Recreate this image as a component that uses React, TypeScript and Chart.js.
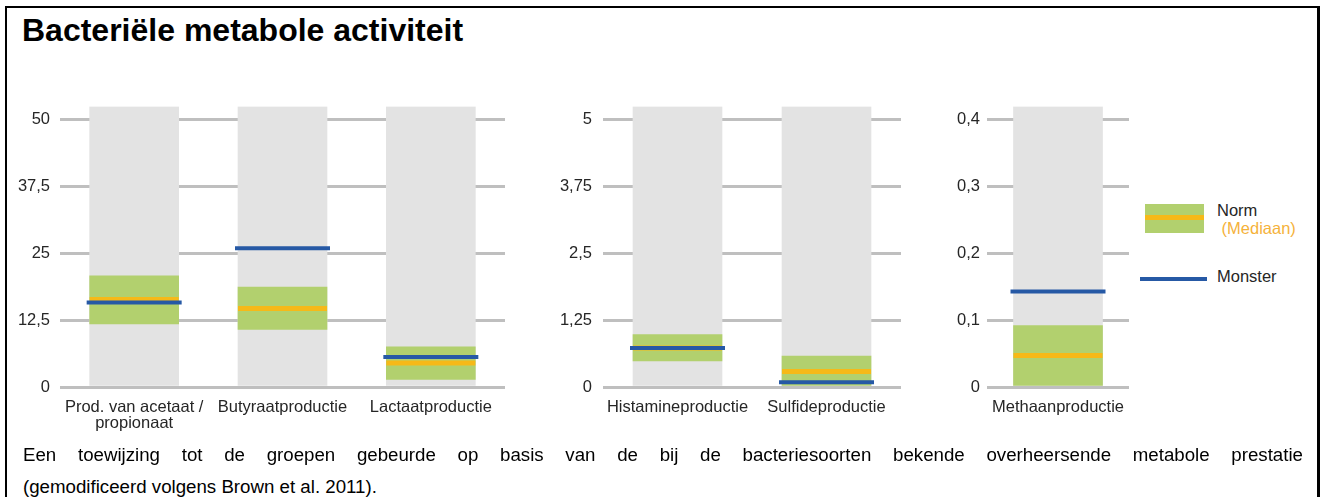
import React, { useEffect, useRef } from "react";
import { Chart, registerables } from "chart.js";

Chart.register(...registerables);

// ---------- data ----------
const groupLabels1: (string | string[])[] = [["Prod. van acetaat /", "propionaat"], "Butyraatproductie", "Lactaatproductie"];
const normLow1 = [11.8, 10.8, 1.4];
const normHigh1 = [20.8, 18.7, 7.5];
const median1 = [16.4, 14.7, 4.5];
const sample1 = [15.8, 26.0, 5.6];
const axisMax1 = 52.5;
const yTicks1 = [0, 12.5, 25, 37.5, 50];

const groupLabels2: (string | string[])[] = ["Histamineproductie", "Sulfideproductie"];
const normLow2 = [0.49, 0];
const normHigh2 = [0.98, 0.58];
const median2 = [0.73, 0.29];
const sample2 = [0.73, 0.09];
const axisMax2 = 5.25;
const yTicks2 = [0, 1.25, 2.5, 3.75, 5];

const groupLabels3: (string | string[])[] = ["Methaanproductie"];
const normLow3 = [0];
const normHigh3 = [0.092];
const median3 = [0.047];
const sample3 = [0.143];
const axisMax3 = 0.42;
const yTicks3 = [0, 0.1, 0.2, 0.3, 0.4];

const titleText = "Bacteriële metabole activiteit";
const legendNorm = "Norm";
const legendMedian = " (Mediaan)";
const legendSample = "Monster";
const footLine1 = "Een toewijzing tot de groepen gebeurde op basis van de bij de bacteriesoorten bekende overheersende metabole prestatie";
const footLine2 = "(gemodificeerd volgens Brown et al. 2011).";

// ---------- styles ----------
const FONT = "'Liberation Sans', Arial, sans-serif";
const GRAY = "#e3e3e3";
const GREEN = "#b2d06e";
const ORANGE = "#f6b918";
const BLUE = "#2659a5";
const GRID = "#bfbfbf";
const TEXT = "#262626";

type Panel = {
  labels: (string | string[])[];
  low: number[];
  high: number[];
  median: number[];
  sample: number[];
  max: number;
  ticks: number[];
};

type Box = { left: number; top: number; width: number; height: number; yWidth: number; padRight: number; padTop: number; xHeight: number; tickGap: number };

function buildConfig(p: Panel, b: Box): any {
  const bg = p.labels.map(() => [0, p.max]);
  const norm = p.low.map((l, i) => [l, p.high[i]]);
  return {
    type: "bar",
    data: {
      labels: p.labels,
      datasets: [
        {
          type: "line",
          data: p.sample,
          showLine: false,
          pointStyle: "line",
          pointRadius: 47.5,
          pointHoverRadius: 47.5,
          pointBorderWidth: 4,
          pointHoverBorderWidth: 4,
          pointBorderColor: BLUE,
          pointBackgroundColor: BLUE,
          clip: false,
          order: 0,
        },
        {
          type: "line",
          data: p.median,
          showLine: false,
          pointStyle: "line",
          pointRadius: 44.5,
          pointHoverRadius: 44.5,
          pointBorderWidth: 5,
          pointHoverBorderWidth: 5,
          pointBorderColor: ORANGE,
          pointBackgroundColor: ORANGE,
          clip: false,
          order: 1,
        },
        {
          type: "bar",
          data: norm,
          backgroundColor: GREEN,
          barThickness: 89,
          grouped: false,
          order: 2,
        },
        {
          type: "bar",
          data: bg,
          backgroundColor: GRAY,
          barThickness: 89,
          grouped: false,
          order: 3,
        },
      ],
    },
    options: {
      responsive: false,
      animation: false,
      events: [],
      layout: { autoPadding: false, padding: { top: b.padTop, right: b.padRight, left: 0, bottom: 0 } },
      plugins: { legend: { display: false }, tooltip: { enabled: false }, title: { display: false } },
      scales: {
        x: {
          grid: { display: false, drawTicks: true, tickLength: 12 },
          border: { display: false },
          ticks: {
            padding: 0,
            color: TEXT,
            font: { family: FONT, size: 16.5, lineHeight: 1 },
            maxRotation: 0,
            autoSkip: false,
          },
          afterFit: (s: any) => {
            s.height = b.xHeight;
          },
        },
        y: {
          min: 0,
          max: p.max,
          bounds: "data",
          grid: { color: GRID, lineWidth: 3, drawTicks: true, tickLength: b.tickGap, tickColor: "rgba(0,0,0,0)" },
          border: { display: false },
          ticks: {
            padding: 0,
            color: TEXT,
            font: { family: FONT, size: 16.5, lineHeight: 1 },
            callback: (v: any) => String(v).replace(".", ","),
          },
          afterBuildTicks: (s: any) => {
            s.ticks = p.ticks.map((v) => ({ value: v }));
          },
          afterFit: (s: any) => {
            s.width = b.yWidth;
          },
        },
      },
    },
  };
}

function PanelChart({ panel, box }: { panel: Panel; box: Box }) {
  const ref = useRef<HTMLCanvasElement | null>(null);
  useEffect(() => {
    if (!ref.current) return;
    const chart = new Chart(ref.current, buildConfig(panel, box));
    return () => chart.destroy();
  }, []);
  return (
    <canvas
      ref={ref}
      width={box.width}
      height={box.height}
      style={{ position: "absolute", left: box.left, top: box.top, width: box.width, height: box.height }}
    />
  );
}

const panels: Panel[] = [
  { labels: groupLabels1, low: normLow1, high: normHigh1, median: median1, sample: sample1, max: axisMax1, ticks: yTicks1 },
  { labels: groupLabels2, low: normLow2, high: normHigh2, median: median2, sample: sample2, max: axisMax2, ticks: yTicks2 },
  { labels: groupLabels3, low: normLow3, high: normHigh3, median: median3, sample: sample3, max: axisMax3, ticks: yTicks3 },
];

const boxes: Box[] = [
  { left: 0, top: 92, width: 515, height: 354, yWidth: 60, padRight: 10, padTop: 14.6, xHeight: 59, tickGap: 10 },
  { left: 520, top: 92, width: 390, height: 354, yWidth: 83, padRight: 9, padTop: 14.6, xHeight: 59, tickGap: 11 },
  { left: 930, top: 92, width: 210, height: 354, yWidth: 57, padRight: 11, padTop: 14.6, xHeight: 59, tickGap: 7 },
];

const textBase: React.CSSProperties = { position: "absolute", fontFamily: FONT, whiteSpace: "pre", color: "#000" };

export default function App() {
  return (
    <div style={{ position: "absolute", left: 0, top: 0, width: 1326, height: 497, overflow: "hidden", background: "#fff" }}>
      <div
        style={{
          position: "absolute",
          left: 5,
          top: 6,
          width: 1310,
          height: 600,
          borderLeft: "2px solid #000",
          borderTop: "2px solid #000",
          borderRight: "3px solid #000",
        }}
      />
      <div style={{ ...textBase, left: 22, top: 13.6, fontSize: 32, lineHeight: "32px", fontWeight: 700 }}>{titleText}</div>

      {panels.map((p, i) => (
        <PanelChart key={i} panel={p} box={boxes[i]} />
      ))}

      {/* legend */}
      <div style={{ position: "absolute", left: 1145, top: 204, width: 59, height: 29, background: GREEN }}>
        <div style={{ position: "absolute", left: 0, top: 11, width: 59, height: 5, background: ORANGE }} />
      </div>
      <div style={{ ...textBase, left: 1217, top: 201.7, fontSize: 16.5, lineHeight: "16.5px", color: TEXT }}>{legendNorm}</div>
      <div style={{ ...textBase, left: 1217, top: 219.5, fontSize: 16.5, lineHeight: "16.5px", color: "#f5b23a" }}>{legendMedian}</div>
      <div style={{ position: "absolute", left: 1140, top: 277, width: 67, height: 4, background: BLUE }} />
      <div style={{ ...textBase, left: 1217, top: 267.8, fontSize: 16.5, lineHeight: "16.5px", color: TEXT }}>{legendSample}</div>

      {/* footnote */}
      <div
        style={{
          ...textBase,
          whiteSpace: "normal",
          left: 23,
          top: 446,
          width: 1280,
          fontSize: 18.7,
          lineHeight: "18.7px",
          textAlign: "justify",
          textAlignLast: "justify" as any,
        }}
      >
        {footLine1}
      </div>
      <div style={{ ...textBase, left: 23, top: 478, fontSize: 18.7, lineHeight: "18.7px" }}>{footLine2}</div>
    </div>
  );
}
